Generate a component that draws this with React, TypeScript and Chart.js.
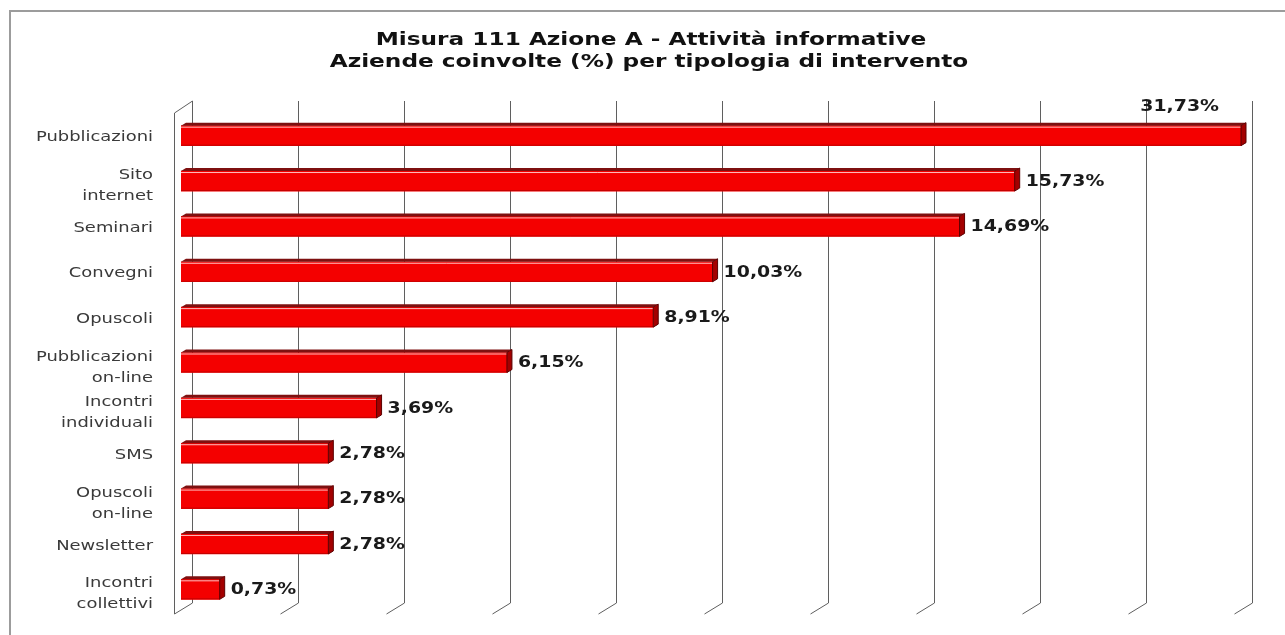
import React, { useEffect, useRef } from "react";
import { Chart, registerables } from "chart.js";

Chart.register(...registerables);

// ---- data ----
const titleLines = [
  "Misura 111 Azione A - Attività informative",
  "Aziende coinvolte (%) per tipologia di intervento",
];
const categories: string[][] = [
  ["Pubblicazioni"],
  ["Sito", "internet"],
  ["Seminari"],
  ["Convegni"],
  ["Opuscoli"],
  ["Pubblicazioni", "on-line"],
  ["Incontri", "individuali"],
  ["SMS"],
  ["Opuscoli", "on-line"],
  ["Newsletter"],
  ["Incontri", "collettivi"],
];
const values = [31.73, 15.73, 14.69, 10.03, 8.91, 6.15, 3.69, 2.78, 2.78, 2.78, 0.73];
const axisMin = 0;
const axisMax = 20;
const axisStep = 2;

const fmt = (v: number) => v.toFixed(2).replace(".", ",") + "%";

function stretchText(
  ctx: CanvasRenderingContext2D,
  text: string,
  x: number,
  y: number,
  align: CanvasTextAlign,
  sx: number
) {
  ctx.save();
  ctx.translate(x, y);
  ctx.scale(sx, 1);
  ctx.textAlign = align;
  ctx.fillText(text, 0, 0);
  ctx.restore();
}

const DEPTH_X = 18;
const DEPTH_Y = 12;
const WALL_SHIFT = 11;

const decoPlugin = {
  id: "deco",
  beforeDraw(chart: any) {
    const ctx: CanvasRenderingContext2D = chart.ctx;
    ctx.save();
    // frame
    ctx.strokeStyle = "#9c9c9c";
    ctx.lineWidth = 2;
    ctx.beginPath();
    ctx.moveTo(10, chart.height + 5);
    ctx.lineTo(10, 11);
    ctx.lineTo(chart.width + 5, 11);
    ctx.stroke();
    // title
    ctx.fillStyle = "#111";
    ctx.font = 'bold 18px "DejaVu Sans"';
    ctx.textBaseline = "middle";
    stretchText(ctx, titleLines[0], 651, 40, "center", 1.29);
    stretchText(ctx, titleLines[1], 649, 62, "center", 1.29);
    ctx.restore();
  },
  beforeDatasetsDraw(chart: any) {
    const ctx: CanvasRenderingContext2D = chart.ctx;
    const xs = chart.scales.x;
    const ys = chart.scales.y;
    const area = chart.chartArea;
    const backTop = area.top - DEPTH_Y;
    const backBottom = area.bottom - 9;
    ctx.save();
    ctx.strokeStyle = "#5f5f5f";
    ctx.lineWidth = 1;
    let tickVals: number[] = (xs.ticks || []).map((t: any) => t.value);
    if (!tickVals.length) {
      for (let v = axisMin; v <= axisMax + 1e-9; v += axisStep) tickVals.push(v);
    }
    tickVals.forEach((v) => {
      const x = Math.round(xs.getPixelForValue(v) + WALL_SHIFT) + 0.5;
      ctx.beginPath();
      ctx.moveTo(x, backTop);
      ctx.lineTo(x, backBottom);
      ctx.lineTo(x - DEPTH_X, backBottom + DEPTH_Y - 1);
      ctx.stroke();
    });
    // left wall front edge
    const x0 = Math.round(xs.getPixelForValue(axisMin) + WALL_SHIFT) + 0.5;
    ctx.beginPath();
    ctx.moveTo(x0, backTop);
    ctx.lineTo(x0 - DEPTH_X, backTop + DEPTH_Y);
    ctx.lineTo(x0 - DEPTH_X, backBottom + DEPTH_Y - 1);
    ctx.stroke();

    // category labels
    ctx.fillStyle = "#3a3a3a";
    ctx.font = '14px "DejaVu Sans"';
    ctx.textBaseline = "middle";
    const lh = 21;
    categories.forEach((lines, i) => {
      const cy = ys.getPixelForValue(i) + 2 + 3 * (lines.length - 1);
      const first = cy - ((lines.length - 1) * lh) / 2;
      lines.forEach((ln, k) => {
        stretchText(ctx, ln, 153, first + k * lh, "right", 1.28);
      });
    });
    ctx.restore();
  },
  afterDatasetsDraw(chart: any) {
    const ctx: CanvasRenderingContext2D = chart.ctx;
    const area = chart.chartArea;
    const meta = chart.getDatasetMeta(0);
    const d = 5;
    const dy = 3;
    ctx.save();
    meta.data.forEach((el: any, i: number) => {
      const p = el.getProps(["x", "y", "base", "height"], true);
      const x0 = p.base;
      const xr = Math.min(p.x, area.right);
      const top = p.y - p.height / 2;
      const bottom = p.y + p.height / 2;
      // top face
      ctx.fillStyle = "#7e1010";
      ctx.beginPath();
      ctx.moveTo(x0, top);
      ctx.lineTo(x0 + d, top - dy);
      ctx.lineTo(xr + d, top - dy);
      ctx.lineTo(xr, top);
      ctx.closePath();
      ctx.fill();
      // highlight
      ctx.strokeStyle = "rgba(255,200,200,0.95)";
      ctx.lineWidth = 1;
      ctx.beginPath();
      ctx.moveTo(x0, top + 1.5);
      ctx.lineTo(xr, top + 1.5);
      ctx.stroke();
      // bottom edge
      ctx.strokeStyle = "#c40000";
      ctx.beginPath();
      ctx.moveTo(x0, bottom - 0.5);
      ctx.lineTo(xr, bottom - 0.5);
      ctx.stroke();
      // right cap
      ctx.fillStyle = "#a30000";
      ctx.strokeStyle = "#5a0000";
      ctx.beginPath();
      ctx.moveTo(xr, top);
      ctx.lineTo(xr + d, top - dy);
      ctx.lineTo(xr + d, bottom - dy);
      ctx.lineTo(xr, bottom);
      ctx.closePath();
      ctx.fill();
      ctx.stroke();

      // value label
      ctx.fillStyle = "#1a1a1a";
      ctx.font = 'bold 15px "DejaVu Sans"';
      ctx.textBaseline = "middle";
      const txt = fmt(values[i]);
      if (p.x > area.right + 0.5) {
        stretchText(ctx, txt, xr - 22, top - 19, "right", 1.26);
      } else {
        stretchText(ctx, txt, xr + d + 6, p.y + 1, "left", 1.26);
      }
    });
    ctx.restore();
  },
};

export default function App() {
  const ref = useRef<HTMLCanvasElement | null>(null);
  useEffect(() => {
    if (!ref.current) return;
    const chart = new Chart(ref.current, {
      type: "bar",
      data: {
        labels: categories,
        datasets: [
          {
            data: values,
            backgroundColor: "#f40000",
            borderWidth: 0,
            barThickness: 20,
          },
        ],
      },
      options: {
        indexAxis: "y",
        responsive: false,
        animation: false,
        devicePixelRatio: 1,
        layout: { padding: { left: 181, right: 44, top: 113, bottom: 23 } },
        scales: {
          x: {
            type: "linear",
            min: axisMin,
            max: axisMax,
            ticks: { stepSize: axisStep },
            display: false,
          },
          y: { display: false },
        },
        plugins: {
          legend: { display: false },
          tooltip: { enabled: false },
          title: { display: false },
        },
      },
      plugins: [decoPlugin],
    } as any);
    return () => chart.destroy();
  }, []);
  return (
    <div style={{ position: "fixed", left: 0, top: 0, width: 1285, height: 635, background: "#fff" }}>
      <canvas ref={ref} width={1285} height={635} />
    </div>
  );
}
